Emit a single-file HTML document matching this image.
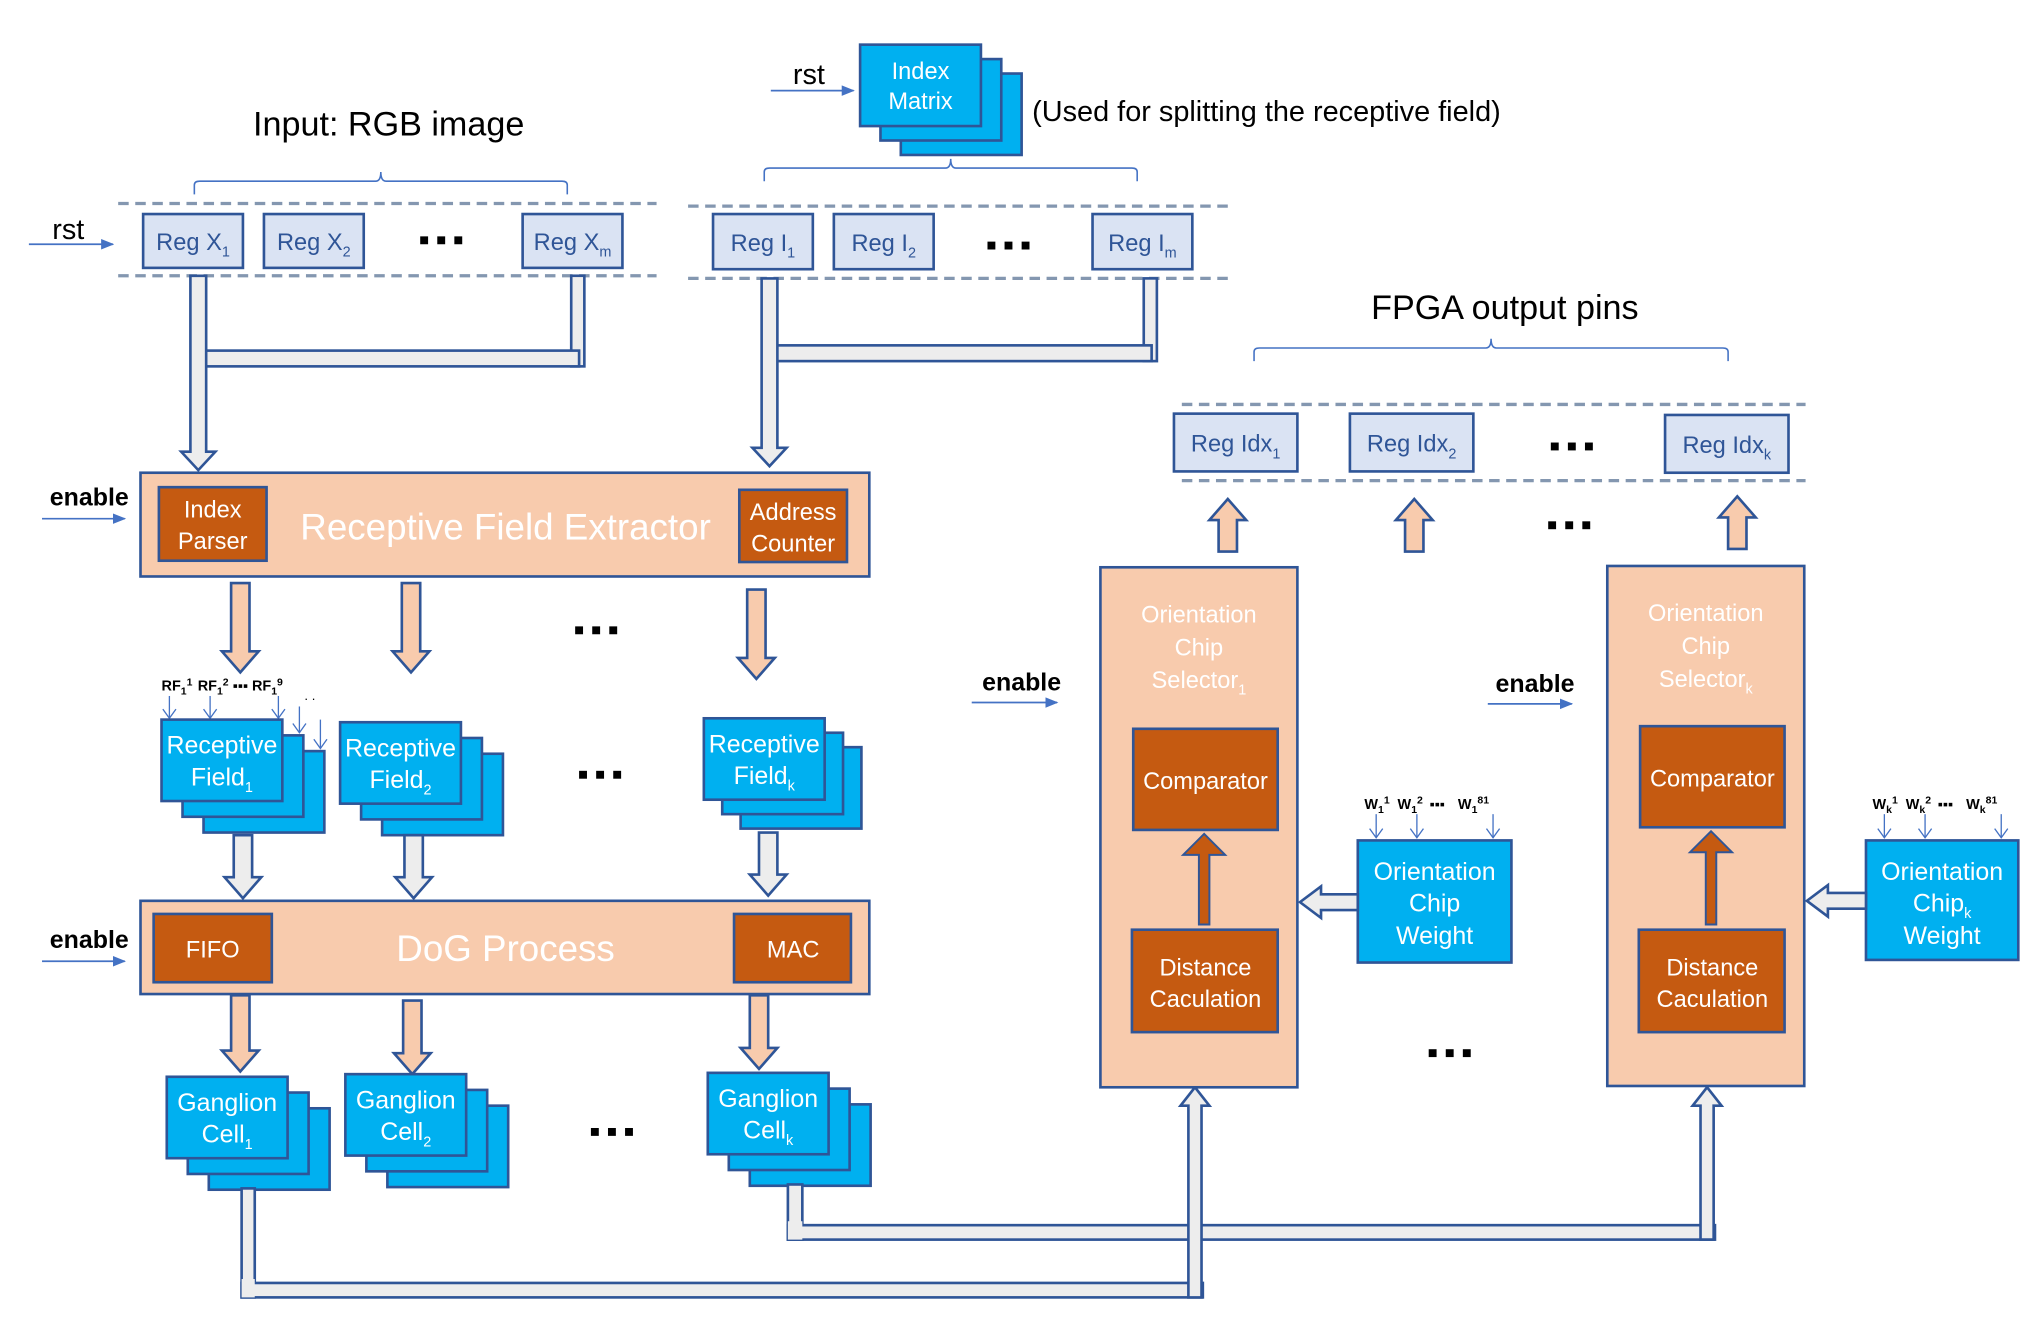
<!DOCTYPE html>
<html><head><meta charset="utf-8">
<style>
html,body{margin:0;padding:0;background:#fff;}
svg{display:block;}
text{font-family:"Liberation Sans","DejaVu Sans",sans-serif;}
</style></head>
<body>
<svg id="s" width="2038" height="1323" viewBox="0 0 1552 1007.5" preserveAspectRatio="none" xmlns="http://www.w3.org/2000/svg">
<defs>
<marker id="ah" markerWidth="10" markerHeight="10" refX="9" refY="5" orient="auto" markerUnits="userSpaceOnUse">
<path d="M0,1 L10,5 L0,9 z" fill="#4472c4"/></marker>
<marker id="sa" markerWidth="12" markerHeight="12" refX="9" refY="6" orient="auto" markerUnits="userSpaceOnUse">
<path d="M2,1 L9,6 L2,11" fill="none" stroke="#4472c4" stroke-width="1"/></marker>
</defs>
<g id="g"></g>
</svg>
<script>
var o='';
var BL='#2f5597';
function r(x,y,w,h,f,s,sw){o+=`<rect x="${x}" y="${y}" width="${w}" height="${h}" fill="${f}" stroke="${s||BL}" stroke-width="${sw||2}"/>`;}
function t(x,y,txt,sz,c,anc,wt){o+=`<text x="${x}" y="${y}" font-size="${sz}" fill="${c||'#000'}" text-anchor="${anc||'middle'}" font-weight="${wt||'normal'}">${txt}</text>`;}
function ln(x1,y1,x2,y2,c,w,extra){o+=`<line x1="${x1}" y1="${y1}" x2="${x2}" y2="${y2}" stroke="${c}" stroke-width="${w}" ${extra||''}/>`;}
function arr(x1,y,x2){ln(x1,y,x2,y,'#4472c4',1.3,'marker-end="url(#ah)"');}
function dash(x1,x2,y){ln(x1,y,x2,y,'#8497b0',2.5,'stroke-dasharray="8,5"');}
function dots(x,y){for(var i=0;i<3;i++)o+=`<rect x="${x-17+i*13}" y="${y-3}" width="6" height="6" fill="#000"/>`;}
function brace(x1,x2,y){var m=(x1+x2)/2;o+=`<path d="M${x1},${y+13} L${x1},${y+6} Q${x1},${y+3} ${x1+4},${y+3} L${m-4},${y+3} Q${m},${y+3} ${m},${y-4} Q${m},${y+3} ${m+4},${y+3} L${x2-4},${y+3} Q${x2},${y+3} ${x2},${y+6} L${x2},${y+13}" fill="none" stroke="#4472c4" stroke-width="1.2"/>`;}
function reg(x,y,w,h,lab,sub){r(x,y,w,h,'#dae3f3',BL,2);o+=`<text x="${x+w/2}" y="${y+h/2+7}" font-size="18" fill="${BL}" text-anchor="middle">${lab}<tspan font-size="11" dy="5">${sub}</tspan></text>`;}
function vdown(cx,y1,y2,f,sw,hw,hl){sw=sw||7;hw=hw||14;hl=hl||16;o+=`<path d="M${cx-sw},${y1} L${cx+sw},${y1} L${cx+sw},${y2-hl} L${cx+hw},${y2-hl} L${cx},${y2} L${cx-hw},${y2-hl} L${cx-sw},${y2-hl} Z" fill="${f}" stroke="${BL}" stroke-width="2"/>`;}
function vup(cx,y1,y2,f,sw,hw,hl){sw=sw||7;hw=hw||14;hl=hl||16;o+=`<path d="M${cx-sw},${y1} L${cx+sw},${y1} L${cx+sw},${y2+hl} L${cx+hw},${y2+hl} L${cx},${y2} L${cx-hw},${y2+hl} L${cx-sw},${y2+hl} Z" fill="${f}" stroke="${BL}" stroke-width="2"/>`;}
function hleft(x1,x2,cy,f){o+=`<path d="M${x1},${cy-6} L${x2+16},${cy-6} L${x2+16},${cy-12} L${x2},${cy} L${x2+16},${cy+12} L${x2+16},${cy+6} L${x1},${cy+6} Z" fill="${f}" stroke="${BL}" stroke-width="2"/>`;}
function stack(x,y,w,h,l1,l2,sub,dx,dy){dx=dx||16;dy=dy||12;for(var i=2;i>=0;i--)r(x+i*dx,y+i*dy,w,h,'#00b0f0',BL,2);
 t(x+w/2,y+26,l1,19,'#fff');o+=`<text x="${x+w/2}" y="${y+50}" font-size="19" fill="#fff" text-anchor="middle">${l2}<tspan font-size="11" dy="5">${sub}</tspan></text>`;}
var GR='#ededed',PE='#f8cbad',DO='#c55a11';

t(296,103,'Input: RGB image',26,'#000');
brace(148,432,135);
dash(90,500,155);dash(90,500,210);
t(52,182,'rst',22);arr(22,186,86);
reg(109,163,76,41,'Reg X','1');reg(201,163,76,41,'Reg X','2');dots(337,183);reg(398,163,76,41,'Reg X','m');
t(616,64,'rst',22);arr(587,69,650);
for(var i=2;i>=0;i--)r(655+i*15.5,34+i*11,92,62,'#00b0f0',BL,2);
t(701,60,'Index',18,'#fff');t(701,83,'Matrix',18,'#fff');
t(786,92,'(Used for splitting the receptive field)',22,'#000','start');
brace(582,866,125);
dash(524,935,157);dash(524,935,212);
reg(543,163,76,42,'Reg I','1');reg(635,163,76,42,'Reg I','2');dots(769,187);reg(832,163,76,42,'Reg I','m');
r(435,210,10,69,GR);r(151,267,290,12,GR);vdown(151,210,358,GR,6,13,14);
r(871,212,10,63,GR);r(586,263,291,12,GR);vdown(586,212,355,GR,6,13,14);

t(68,385,'enable',19,'#000','middle','bold');arr(32,395,95);
r(107,360,555,79,PE);r(121,371,82,56,DO);t(162,394,'Index',18,'#fff');t(162,418,'Parser',18,'#fff');
r(563,373,82,55,DO);t(604,396,'Address',18,'#fff');t(604,420,'Counter',18,'#fff');
t(385,411,'Receptive Field Extractor',28,'#fff');
vdown(183,444,512,PE);vdown(313,444,512,PE);vdown(576,449,517,PE);dots(455,480);
o+=`<text x="123" y="526" font-size="11" font-weight="bold">RF<tspan font-size="8" dy="3">1</tspan><tspan font-size="8" dy="-7">1</tspan><tspan dy="4" dx="4">RF</tspan><tspan font-size="8" dy="3">1</tspan><tspan font-size="8" dy="-7">2</tspan><tspan dy="4" dx="3">▪▪▪ RF</tspan><tspan font-size="8" dy="3">1</tspan><tspan font-size="8" dy="-7">9</tspan></text>`;
t(236,533,'. .',10);
[[129,530,547],[160,530,547],[212,530,547],[228,538,558],[244,548,570]].forEach(a=>ln(a[0],a[1],a[0],a[2],'#4472c4',1,'marker-end="url(#sa)"'));
stack(123,548,92,62,'Receptive','Field','1');stack(259,550,92,62,'Receptive','Field','2');dots(458,590);stack(536,547,92,62,'Receptive','Field','k',14,11);
vdown(185,636,684,GR);vdown(315,636,684,GR);vdown(585,634,682,GR);
t(68,722,'enable',19,'#000','middle','bold');arr(32,732,95);
r(107,686,555,71,PE);r(117,696,90,52,DO);t(162,729,'FIFO',18,'#fff');r(559,696,89,52,DO);t(604,729,'MAC',18,'#fff');
t(385,732,'DoG Process',28,'#fff');
vdown(183,758,816,PE);vdown(314,762,818,PE);vdown(578,758,814,PE);
stack(127,820,92,62,'Ganglion','Cell','1');stack(263,818,92,62,'Ganglion','Cell','2');dots(467,862);stack(539,817,92,62,'Ganglion','Cell','k');
r(184,905,10,83,GR);r(600,902,11,42,GR);
r(184,977,732,11,GR);r(600,933,706,11,GR);
vup(910,988,828,GR,5,11,14);vup(1300,944,828,GR,5,11,14);
r(185,975,8,12,GR,GR,0);r(601,931,9,12,GR,GR,0);

t(1146,243,'FPGA output pins',26);
brace(955,1316,262);
dash(900,1375,308);dash(900,1375,366);
reg(894,315,94,44,'Reg Idx','1');reg(1028,315,94,44,'Reg Idx','2');dots(1198,340);reg(1268,316,94,44,'Reg Idx','k');
vup(935,420,380,PE);vup(1077,420,380,PE);vup(1323,418,378,PE);dots(1196,400);
function sel(x,y,sub,cy,dy){r(x,y,150,396,PE);t(x+75,y+42,'Orientation',18,'#fff');t(x+75,y+67,'Chip',18,'#fff');
 o+=`<text x="${x+75}" y="${y+92}" font-size="18" fill="#fff" text-anchor="middle">Selector<tspan font-size="11" dy="5">${sub}</tspan></text>`;
 r(x+25,cy,110,77,DO);t(x+80,cy+46,'Comparator',18,'#fff');
 r(x+24,dy,111,78,DO);t(x+80,dy+35,'Distance',18,'#fff');t(x+80,dy+59,'Caculation',18,'#fff');
 var tip=cy+80,base=dy-4;
 o+=`<path d="M${x+75},${base} L${x+83},${base} L${x+83},${tip+16} L${x+95},${tip+16} L${x+79},${tip} L${x+63},${tip+16} L${x+75},${tip+16} Z" fill="${DO}" stroke="${BL}" stroke-width="1.5"/>`;}
sel(838,432,'1',555,708);sel(1224,431,'k',553,708);
t(778,526,'enable',19,'#000','middle','bold');arr(740,535,805);
t(1169,527,'enable',19,'#000','middle','bold');arr(1133,536,1197);
function wt(x,y,w,h,sub,l){r(x,y,w,h,'#00b0f0',BL,2);t(x+w/2,y+30,'Orientation',19,'#fff');
 o+=`<text x="${x+w/2}" y="${y+54}" font-size="19" fill="#fff" text-anchor="middle">Chip<tspan font-size="11" dy="5">${sub}</tspan></text>`;t(x+w/2,y+79,'Weight',19,'#fff');
 o+=`<text x="${x+5}" y="${y-24}" font-size="11" font-weight="bold">W<tspan font-size="8" dy="3">${l}</tspan><tspan font-size="8" dy="-7">1</tspan><tspan dy="4" dx="6">W</tspan><tspan font-size="8" dy="3">${l}</tspan><tspan font-size="8" dy="-7">2</tspan><tspan dy="4" dx="5">▪▪▪</tspan><tspan dx="10">W</tspan><tspan font-size="8" dy="3">${l}</tspan><tspan font-size="8" dy="-7">81</tspan></text>`;
 [14,45,103].forEach(d=>ln(x+d,y-20,x+d,y-2,'#4472c4',1,'marker-end="url(#sa)"'));}
wt(1034,640,117,93,'',1);wt(1421,640,116,91,'k','k');
hleft(1034,990,687,GR);hleft(1421,1376,686,GR);
dots(1105,802);
document.getElementById('g').innerHTML=o;
</script>
</body></html>
